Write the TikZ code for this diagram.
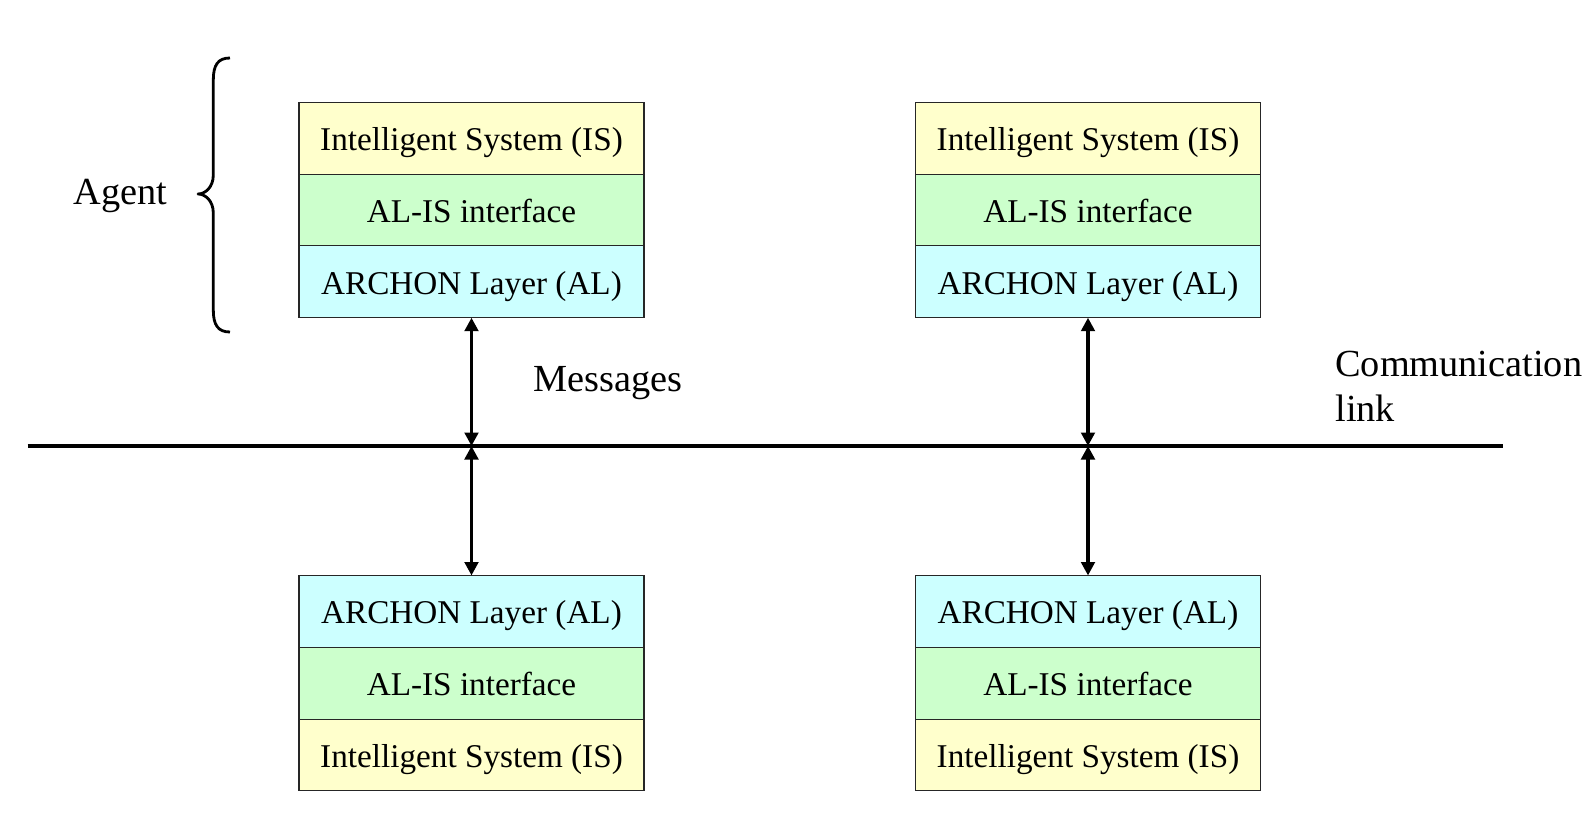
\documentclass[tikz,border=0pt]{standalone}
\usepackage{fontspec}
\setmainfont{Liberation Serif}
\usetikzlibrary{positioning,arrows.meta}
\definecolor{isyellow}{HTML}{FFFFCC}
\definecolor{ifgreen}{HTML}{CCFFCC}
\definecolor{alcyan}{HTML}{CCFFFF}
\begin{document}
\begin{tikzpicture}[
  layer/.style={rectangle, draw=black!85, line width=0.6pt, fill=#1,
                minimum width=6.9cm, minimum height=1.436cm, inner sep=0pt,
                outer sep=0pt, text height=17.5pt, text depth=3.3pt,
                font=\fontsize{18.9}{21.8}\selectfont},
  layer/.default={isyellow},
  lbl/.style={inner sep=0pt, font=\fontsize{21.8}{25.6}\selectfont},
  msg/.style={{Triangle[length=0.27cm,width=0.27cm]}-{Triangle[length=0.27cm,width=0.27cm]},
              line width=2.2pt},
  bus/.style={line width=2.8pt}
]
  \useasboundingbox (0,0) rectangle (31.84,16.7);

  % Upper agents
  \node[layer=isyellow, anchor=north] (isA) at (9.43,14.654) {Intelligent System (IS)};
  \node[layer=ifgreen, below=0pt of isA] (ifA) {AL-IS interface};
  \node[layer=alcyan, below=0pt of ifA] (alA) {ARCHON Layer (AL)};

  \node[layer=isyellow, anchor=north] (isB) at (21.76,14.654) {Intelligent System (IS)};
  \node[layer=ifgreen, below=0pt of isB] (ifB) {AL-IS interface};
  \node[layer=alcyan, below=0pt of ifB] (alB) {ARCHON Layer (AL)};

  % Lower agents
  \node[layer=alcyan, anchor=north] (alC) at (9.43,5.19) {ARCHON Layer (AL)};
  \node[layer=ifgreen, below=0pt of alC] (ifC) {AL-IS interface};
  \node[layer=isyellow, below=0pt of ifC] (isC) {Intelligent System (IS)};

  \node[layer=alcyan, anchor=north] (alD) at (21.76,5.19) {ARCHON Layer (AL)};
  \node[layer=ifgreen, below=0pt of alD] (ifD) {AL-IS interface};
  \node[layer=isyellow, below=0pt of ifD] (isD) {Intelligent System (IS)};

  % Communication link
  \coordinate (linkL) at (0.55,7.78);
  \coordinate (linkR) at (30.05,7.78);
  \draw[bus] (linkL) -- (linkR);
  \coordinate (jA) at (alA.south |- linkL);
  \coordinate (jB) at (alB.south |- linkL);

  % Messages
  \draw[msg] (alA.south) -- (jA);
  \draw[msg] (jA) -- (alC.north);
  \draw[msg] (alB.south) -- (jB);
  \draw[msg] (jB) -- (alD.north);

  % Labels
  \node[lbl, anchor=base west] (messages) at (10.66,8.866) {Messages};
  \node[lbl, anchor=base west, align=left] (commlink) at (26.7,8.266) {Communication\\link};
  \node[lbl, anchor=base west] (agent) at (1.466,12.6) {Agent};

  % Brace
  \draw[line width=1.6pt, line join=round] (4.6,15.54) .. controls (4.36,15.54) and (4.266,15.4) .. (4.266,15.1)
    -- (4.266,13.2) .. controls (4.266,12.95) and (4.1,12.82) .. (3.96,12.82)
    .. controls (4.1,12.82) and (4.266,12.69) .. (4.266,12.44)
    -- (4.266,10.5) .. controls (4.266,10.2) and (4.36,10.06) .. (4.6,10.06);
\end{tikzpicture}
\end{document}
